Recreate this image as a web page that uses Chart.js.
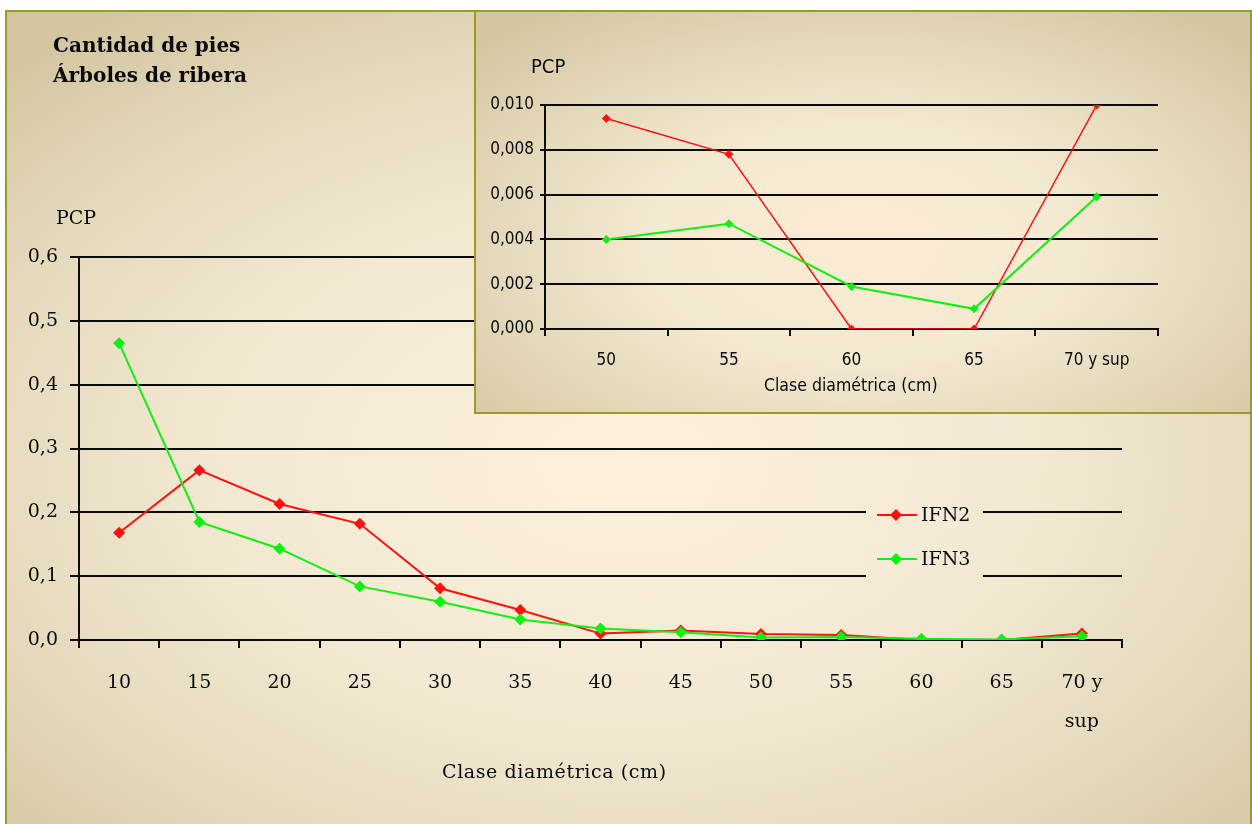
<!DOCTYPE html>
<html lang="es">
<head>
<meta charset="utf-8">
<title>Cantidad de pies - Árboles de ribera</title>
<script src="https://cdn.jsdelivr.net/npm/chart.js@4/dist/chart.umd.min.js"></script>
<style>
  html, body { margin: 0; padding: 0; background: #fff; width: 1252px; height: 824px; overflow: hidden; }
  .panel {
    position: absolute;
    left: 5px; top: 10px;
    width: 1247px; height: 830px;
    box-sizing: border-box;
    border: 2px solid #9b9b24;
    background: radial-gradient(ellipse 72% 68% at 50% 55%, #fdf0dc 0%, #f3e9d2 45%, #e4d9bc 75%, #d3c5a0 100%);
  }
  #mainChart { position: absolute; left: 0; top: 0; }
  .inset {
    position: absolute;
    left: 474px; top: 10px;
    width: 778px; height: 404px;
    box-sizing: border-box;
    border: 2px solid #9b9b24;
    background: radial-gradient(ellipse 68% 72% at 50% 58%, #fcecd4 0%, #f4e9d1 40%, #e2d6b7 75%, #d4c6a2 100%);
  }
  #insetChart { position: absolute; left: 0; top: 0; }
  .txt { position: absolute; white-space: nowrap; color: #0a0a0a; }
  .serif { font-family: "DejaVu Serif", serif; }
  .narrow { font-family: "Liberation Sans Narrow", "DejaVu Sans Condensed", sans-serif; }
</style>
</head>
<body>
<div class="panel"></div>
<canvas id="mainChart" width="1252" height="824"></canvas>

<div class="txt serif" style="left:53px; top:30px; font-size:20px; font-weight:bold; line-height:30px;">Cantidad de pies<br>Árboles de ribera</div>
<div class="txt serif" style="left:56px; top:206px; font-size:19px;">PCP</div>
<div class="txt serif" style="left:442px; top:760px; font-size:19px; letter-spacing:0.6px;">Clase diamétrica (cm)</div>

<div class="inset">
  <canvas id="insetChart" width="774" height="400"></canvas>
  <div class="txt narrow" style="left:55px; top:42px; font-size:20px;">PCP</div>
  <div class="txt narrow" style="left:288px; top:363px; font-size:17.5px;">Clase diamétrica (cm)</div>
</div>

<script>
// Diameter classes (cm) and PCP per inventory
const mainLabels = ['10', '15', '20', '25', '30', '35', '40', '45', '50', '55', '60', '65', ['70 y', 'sup']];
const ifn2Main = [0.168, 0.266, 0.213, 0.182, 0.081, 0.047, 0.010, 0.015, 0.0094, 0.0078, 0.0, 0.0, 0.0100];
const ifn3Main = [0.465, 0.185, 0.143, 0.084, 0.060, 0.032, 0.018, 0.012, 0.0040, 0.0047, 0.0019, 0.0009, 0.0059];
const mainYTicks = { min: 0, max: 0.6, step: 0.1 };

// Detail of the larger classes
const insetLabels = ['50', '55', '60', '65', '70 y sup'];
const ifn2Inset = [0.0094, 0.0078, 0.0, 0.0, 0.0100];
const ifn3Inset = [0.0040, 0.0047, 0.0019, 0.0009, 0.0059];
const insetYTicks = { min: 0, max: 0.010, step: 0.002 };

const seriesNames = ['IFN2', 'IFN3'];
const RED = '#ff1010';
const GREEN = '#10f010';

const serifFont = { family: '"DejaVu Serif", serif', size: 19 };
const narrowFont = { family: '"Liberation Sans Narrow", "DejaVu Sans Condensed", sans-serif', size: 17 };

function comma(v, digits) {
  return v.toFixed(digits).replace('.', ',');
}

// Legend box sits over the gridlines, so wipe them there and draw the keys
const mainLegend = {
  id: 'mainLegend',
  beforeDatasetsDraw(chart) {
    chart.ctx.clearRect(866, 494, 117, 94);
  },
  afterDraw(chart) {
    const ctx = chart.ctx;
    const rows = [
      { label: seriesNames[0], color: RED, y: 515 },
      { label: seriesNames[1], color: GREEN, y: 559 }
    ];
    ctx.save();
    rows.forEach(r => {
      ctx.strokeStyle = r.color;
      ctx.lineWidth = 2;
      ctx.beginPath();
      ctx.moveTo(877, r.y);
      ctx.lineTo(917, r.y);
      ctx.stroke();
      ctx.fillStyle = r.color;
      ctx.beginPath();
      ctx.moveTo(896, r.y - 6); ctx.lineTo(902, r.y); ctx.lineTo(896, r.y + 6); ctx.lineTo(890, r.y);
      ctx.closePath();
      ctx.fill();
      ctx.fillStyle = '#0a0a0a';
      ctx.font = '19px "DejaVu Serif", serif';
      ctx.textBaseline = 'middle';
      ctx.fillText(r.label, 921, r.y + 1);
    });
    ctx.restore();
  }
};

function series(label, data, color, radius, width, order) {
  return {
    label: label,
    data: data,
    borderColor: color,
    backgroundColor: color,
    borderWidth: width,
    pointStyle: 'rectRot',
    pointRadius: radius,
    pointBorderWidth: 0,
    pointBackgroundColor: color,
    tension: 0,
    order: order
  };
}

new Chart(document.getElementById('mainChart'), {
  type: 'line',
  data: {
    labels: mainLabels,
    datasets: [
      series(seriesNames[0], ifn2Main, RED, 6, 2, 2),
      series(seriesNames[1], ifn3Main, GREEN, 6, 2, 1)
    ]
  },
  options: {
    responsive: false,
    animation: false,
    devicePixelRatio: 1,
    layout: { padding: { left: 0, top: 257, right: 130, bottom: 0 } },
    plugins: { legend: { display: false }, tooltip: { enabled: false } },
    scales: {
      x: {
        type: 'category',
        offset: true,
        afterFit: s => { s.height = 184; },
        grid: { offset: true, drawOnChartArea: false, drawTicks: true, tickLength: 8, color: '#0a0a0a', lineWidth: 2 },
        border: { display: true, color: '#0a0a0a', width: 2 },
        ticks: { color: '#0a0a0a', font: { ...serifFont, lineHeight: 2.05 }, padding: 16, maxRotation: 0, autoSkip: false }
      },
      y: {
        min: mainYTicks.min,
        max: mainYTicks.max,
        afterFit: s => { s.width = 79; },
        grid: { color: '#0a0a0a', lineWidth: 2, tickLength: 9, drawTicks: true },
        border: { display: true, color: '#0a0a0a', width: 2 },
        ticks: { stepSize: mainYTicks.step, color: '#0a0a0a', font: serifFont, padding: 12, callback: v => comma(v, 1) }
      }
    }
  },
  plugins: [mainLegend]
});

new Chart(document.getElementById('insetChart'), {
  type: 'line',
  data: {
    labels: insetLabels,
    datasets: [
      series(seriesNames[0], ifn2Inset, RED, 4.5, 1.5, 2),
      series(seriesNames[1], ifn3Inset, GREEN, 4.5, 2, 1)
    ]
  },
  options: {
    responsive: false,
    animation: false,
    devicePixelRatio: 1,
    layout: { padding: { left: 0, top: 93, right: 92, bottom: 0 } },
    plugins: { legend: { display: false }, tooltip: { enabled: false } },
    scales: {
      x: {
        type: 'category',
        offset: true,
        afterFit: s => { s.height = 83; },
        grid: { offset: true, drawOnChartArea: false, drawTicks: true, tickLength: 7, color: '#0a0a0a', lineWidth: 2 },
        border: { display: true, color: '#0a0a0a', width: 2 },
        ticks: { color: '#0a0a0a', font: narrowFont, padding: 14, maxRotation: 0, autoSkip: false }
      },
      y: {
        min: insetYTicks.min,
        max: insetYTicks.max,
        afterFit: s => { s.width = 69; },
        grid: { color: '#0a0a0a', lineWidth: 2, tickLength: 5, drawTicks: true },
        border: { display: true, color: '#0a0a0a', width: 2 },
        ticks: { stepSize: insetYTicks.step, color: '#0a0a0a', font: narrowFont, padding: 6, callback: v => comma(v, 3) }
      }
    }
  }
});
</script>
</body>
</html>
